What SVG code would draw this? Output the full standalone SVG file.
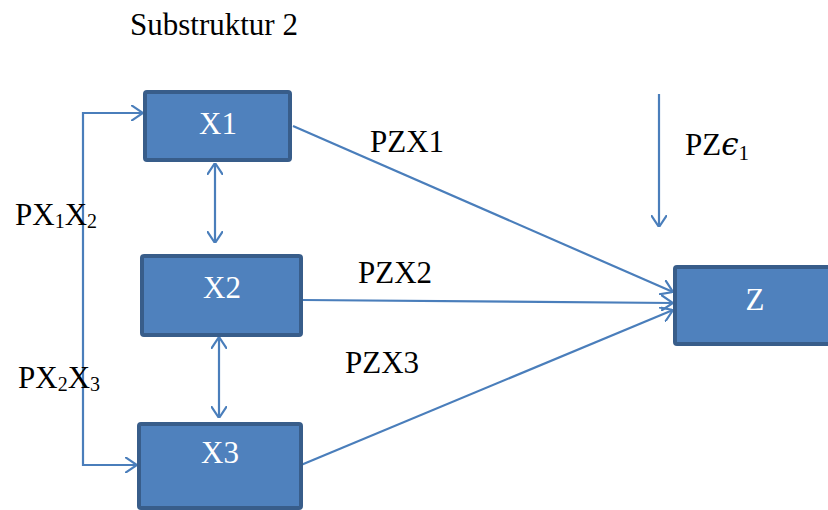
<svg xmlns="http://www.w3.org/2000/svg" width="828" height="510" viewBox="0 0 828 510">
<defs>
<style>
.box{fill:#4F81BD;stroke:#385D8A;stroke-width:4}
text{font-family:"Liberation Serif","Times New Roman",Times,serif}
.bt{font-size:31px;fill:#fff;text-anchor:middle}
.lbl{font-size:31px;fill:#000}
.c{stroke:#4A7EBB;stroke-width:2.2;fill:none}
</style>
<marker id="a" viewBox="0 0 12 16" refX="12" refY="8" markerWidth="12" markerHeight="16" markerUnits="userSpaceOnUse" orient="auto-start-reverse">
<path d="M0,0 L12,8 L0,16" fill="none" stroke="#4A7EBB" stroke-width="2.2"/>
</marker>
</defs>
<text class="lbl" x="130" y="35" font-family="Liberation Serif, serif">Substruktur 2</text>
<g id="connectors">
<path class="c" d="M143,113 H83 V465 H137" marker-start="url(#a)" marker-end="url(#a)"/>
<line class="c" x1="215" y1="163" x2="215" y2="243" marker-start="url(#a)" marker-end="url(#a)"/>
<line class="c" x1="219" y1="337" x2="219" y2="418" marker-start="url(#a)" marker-end="url(#a)"/>
<line class="c" x1="293" y1="126" x2="673" y2="292" marker-end="url(#a)"/>
<line class="c" x1="303" y1="300" x2="673" y2="303" marker-end="url(#a)"/>
<line class="c" x1="301" y1="465" x2="673" y2="310" marker-end="url(#a)"/>
<line class="c" x1="659" y1="94" x2="659" y2="227" marker-end="url(#a)"/>
</g>
<g id="X1"><rect class="box" x="145" y="92" width="145" height="68" rx="2"/><text class="bt" x="218" y="134" font-family="Liberation Serif, serif">X1</text></g>
<g id="X2"><rect class="box" x="142" y="256" width="159" height="79" rx="2"/><text class="bt" x="222" y="298" font-family="Liberation Serif, serif">X2</text></g>
<g id="X3"><rect class="box" x="139" y="424" width="162" height="84" rx="2"/><text class="bt" x="220" y="463" font-family="Liberation Serif, serif">X3</text></g>
<g id="Z"><rect class="box" x="675" y="267" width="160" height="77" rx="2"/><text class="bt" x="755" y="310" font-family="Liberation Serif, serif">Z</text></g>
<text class="lbl" x="370" y="152" font-family="Liberation Serif, serif">PZX1</text>
<text class="lbl" x="358" y="283" font-family="Liberation Serif, serif">PZX2</text>
<text class="lbl" x="345" y="373" font-family="Liberation Serif, serif">PZX3</text>
<text class="lbl" x="685" y="155" font-family="Liberation Serif, serif">PZ<tspan font-style="italic" font-family="DejaVu Serif, serif">ϵ</tspan><tspan font-size="21" dy="5">1</tspan></text>
<text class="lbl" x="15" y="225" font-family="Liberation Serif, serif">PX<tspan font-size="20" dy="3">1</tspan><tspan dy="-3">X</tspan><tspan font-size="20" dy="3">2</tspan></text>
<text class="lbl" x="18" y="388" font-family="Liberation Serif, serif">PX<tspan font-size="20" dy="3">2</tspan><tspan dy="-3">X</tspan><tspan font-size="20" dy="3">3</tspan></text>
</svg>
